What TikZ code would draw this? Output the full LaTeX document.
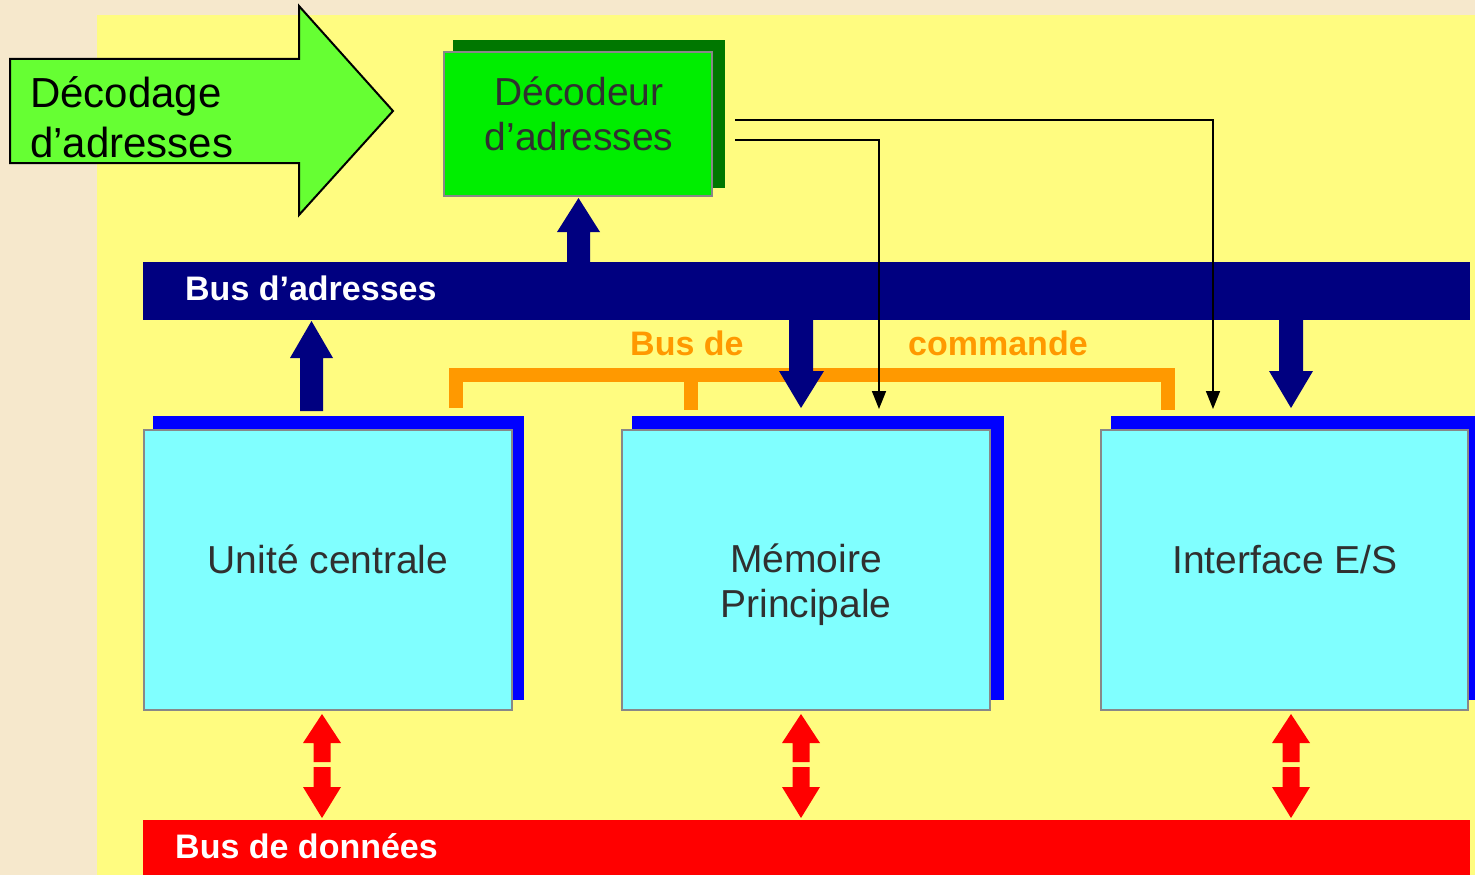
\documentclass[tikz,border=0pt]{standalone}
\usepackage{fontspec}
\setmainfont{Liberation Sans}
\usetikzlibrary{arrows.meta}
\definecolor{bgbeige}{RGB}{246,232,204}
\definecolor{panel}{RGB}{255,252,128}
\definecolor{arrowgreen}{RGB}{102,255,51}
\definecolor{decgreen}{RGB}{0,238,0}
\definecolor{decshadow}{RGB}{0,119,0}
\definecolor{boxcyan}{RGB}{128,255,255}
\definecolor{shadowblue}{RGB}{0,0,255}
\definecolor{navybus}{RGB}{0,0,128}
\definecolor{cmdorange}{RGB}{255,153,0}
\definecolor{datared}{RGB}{255,0,0}
\definecolor{textgray}{RGB}{48,48,48}
\definecolor{edgegray}{RGB}{136,136,136}
\tikzset{
  shadowrect/.style={inner sep=0pt, outer sep=0pt, anchor=north west, draw=none},
  mainrect/.style={inner sep=0pt, outer sep=0pt, anchor=north west, draw=edgegray, line width=1.5pt},
  bigtext/.style={inner sep=0pt, anchor=base, text=textgray, font=\fontsize{39}{45}\selectfont},
  bustext/.style={inner sep=0pt, anchor=base west, font=\fontsize{34}{40}\selectfont\bfseries},
  arrowtext/.style={inner sep=0pt, anchor=base west, text=black, font=\fontsize{42}{50}\selectfont},
  thinarrow/.style={draw=black, line width=1.6pt, -{Triangle[width=14pt,length=18pt]}},
}
\begin{document}
\begin{tikzpicture}[x=1pt,y=-1pt]
\useasboundingbox (0,0) rectangle (1475,875);
\fill[bgbeige] (0,0) rectangle (1475,875);
\fill[panel] (97,15) rectangle (1475,875);

% big green arrow
\filldraw[fill=arrowgreen, draw=black, line width=2pt, line join=miter]
  (10,59) -- (299,59) -- (299,6) -- (393,111) -- (299,215) -- (299,163) -- (10,163) -- cycle;
\node[arrowtext] (lab1) at (30,107) {Décodage};
\node[arrowtext] (lab2) at (30,157) {d’adresses};

% decoder box
\node[shadowrect, fill=decshadow, minimum width=272pt, minimum height=148pt] (decsh) at (453,40) {};
\node[mainrect, fill=decgreen, minimum width=268pt, minimum height=144pt] (dec) at (444,52) {};
\node[bigtext] (dect1) at (579,105) {Décodeur};
\node[bigtext] (dect2) at (579,150) {d’adresses};

% address bus
\node[shadowrect, fill=navybus, minimum width=1327pt, minimum height=58pt] (abus) at (143,262) {};
\node[bustext, text=white] (abust) at (185,300) {Bus d’adresses};

% data bus
\node[shadowrect, fill=datared, minimum width=1327pt, minimum height=56pt] (dbus) at (143,820) {};
\node[bustext, text=white] (dbust) at (175,858) {Bus de données};

% command bus bracket
\fill[cmdorange] (449,368) rectangle (1175,382);
\fill[cmdorange] (449,368) rectangle (463,408);
\fill[cmdorange] (684,380) rectangle (698,410);
\fill[cmdorange] (1161,368) rectangle (1175,410);
\node[bustext, text=cmdorange] (cbus1) at (630,355) {Bus de};
\node[bustext, text=cmdorange] (cbus2) at (908,355) {commande};

% three main boxes
\node[shadowrect, fill=shadowblue, minimum width=371pt, minimum height=284pt] (cpush) at (153,416) {};
\node[mainrect, fill=boxcyan, minimum width=368pt, minimum height=280pt] (cpu) at (144,430) {};
\node[shadowrect, fill=shadowblue, minimum width=372pt, minimum height=284pt] (memsh) at (632,416) {};
\node[mainrect, fill=boxcyan, minimum width=368pt, minimum height=280pt] (mem) at (622,430) {};
\node[shadowrect, fill=shadowblue, minimum width=370pt, minimum height=284pt] (iosh) at (1111,416) {};
\node[mainrect, fill=boxcyan, minimum width=367pt, minimum height=280pt] (io) at (1101,430) {};

\node[bigtext] (cput) at (328,573) {Unité centrale};
\node[bigtext] (memt1) at (806,572) {Mémoire};
\node[bigtext] (memt2) at (806,617) {Principale};
\node[bigtext] (iot) at (1285,573) {Interface E/S};

% navy block arrows
\fill[navybus] (567,263) -- (567,232) -- (557,232) -- (578.5,198) -- (600,232) -- (590,232) -- (590,263) -- cycle;
\fill[navybus] (300,411) -- (300,358) -- (290,358) -- (311.5,321) -- (333,358) -- (323,358) -- (323,411) -- cycle;
\fill[navybus] (789,319) -- (789,371) -- (779,371) -- (801,408) -- (824,371) -- (813,371) -- (813,319) -- cycle;
\fill[navybus] (1279,319) -- (1279,371) -- (1269,371) -- (1291,408) -- (1313,371) -- (1303,371) -- (1303,319) -- cycle;

% red double arrows
\foreach \cx in {322,801,1291}{
  \fill[datared] (\cx,714) -- (\cx+19,743) -- (\cx+8.5,743) -- (\cx+8.5,762) -- (\cx-8.5,762) -- (\cx-8.5,743) -- (\cx-19,743) -- cycle;
  \fill[datared] (\cx,818) -- (\cx+19,787) -- (\cx+8.5,787) -- (\cx+8.5,767) -- (\cx-8.5,767) -- (\cx-8.5,787) -- (\cx-19,787) -- cycle;
}

% thin select lines from the decoder
\coordinate (o1) at (735,120);
\coordinate (o2) at (735,140);
\coordinate (ioin) at (1213,409);
\coordinate (memin) at (879,409);
\draw[thinarrow] (o1) -| (ioin);
\draw[thinarrow] (o2) -| (memin);
\end{tikzpicture}
\end{document}
